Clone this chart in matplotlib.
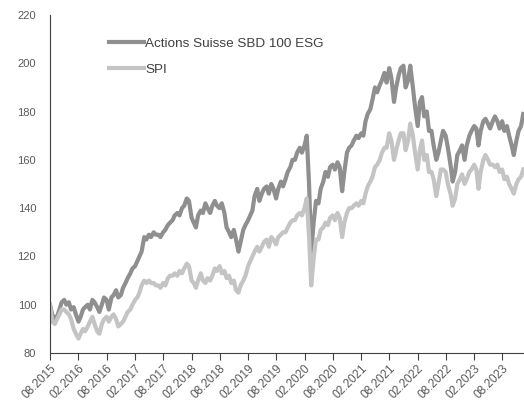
import matplotlib.pyplot as plt
import matplotlib.dates as mdates
import pandas as pd

plt.rcParams['font.family'] = ['Liberation Sans', 'DejaVu Sans']

# semi-monthly points (1st and 15th), Aug 2015 - Dec 2023
dates = pd.date_range("2015-08-01", "2023-12-15", freq="SMS")

esg = [
    100, 96, 94, 95, 98, 101, 102, 100, 101, 98, 99, 96,
    93, 95, 98, 99, 100, 98, 102, 101, 99, 97, 100, 103,
    102, 98, 103, 104, 106, 103, 104, 107, 109, 111, 113, 115,
    116, 118, 120, 122, 128, 127, 129, 128, 130, 129, 129, 128,
    130, 131, 133, 134, 135, 137, 138, 137, 140, 141, 144, 143,
    136, 134, 132, 137, 139, 138, 142, 140, 138, 141, 143, 141,
    140, 142, 138, 132, 130, 128, 131, 127, 122, 126, 131, 133,
    135, 137, 139, 145, 148, 143, 146, 148, 149, 146, 150, 148,
    144, 148, 151, 149, 152, 155, 157, 160, 160, 163, 165, 163,
    166, 170, 150, 122, 135, 143, 142, 148, 151, 155, 153, 157,
    158, 156, 159, 157, 147, 155, 163, 165, 166, 168, 170, 169,
    171, 170, 176, 179, 181, 185, 190, 188, 191, 193, 196, 192,
    198, 194, 184, 190, 195, 198, 199, 190, 193, 199, 190, 182,
    174, 184, 186, 178, 180, 172, 172, 166, 160, 163, 168, 172,
    170, 165, 158, 151, 155, 162, 164, 166, 160, 166, 170, 172,
    174, 173, 166, 172, 176, 177, 175, 173, 176, 178, 176, 173,
    176, 172, 174, 170, 166, 162, 168, 172, 174, 179,
]

spi = [
    100, 93, 92, 94, 96, 98, 98, 97, 96, 94, 90, 88,
    86, 88, 90, 89, 91, 93, 95, 92, 89, 88, 92, 94,
    95, 93, 95, 96, 94, 91, 92, 93, 95, 97, 98, 100,
    102, 103, 105, 108, 110, 109, 110, 109, 109, 108, 108, 107,
    109, 108, 111, 112, 112, 113, 112, 114, 113, 115, 117, 116,
    110, 109, 107, 110, 113, 110, 109, 111, 110, 112, 115, 114,
    116, 113, 114, 111, 112, 109, 110, 106, 105, 108, 110, 112,
    116, 118, 120, 122, 124, 122, 124, 126, 127, 124, 128, 127,
    125, 128, 129, 130, 130, 132, 134, 135, 135, 137, 138, 137,
    140, 144, 128, 108, 120, 127, 127, 131, 132, 134, 133, 136,
    137, 135, 138, 136, 128, 134, 138, 140, 140, 141, 142, 141,
    143, 142, 146, 149, 151, 153, 157, 158, 160, 163, 165, 165,
    171, 168, 160, 164, 168, 171, 171, 164, 168, 175, 170, 163,
    156, 164, 168, 160, 162, 155, 155, 152, 145, 150, 156, 156,
    155, 150, 146, 141, 144, 150, 152, 154, 150, 152, 155, 156,
    158, 156, 148, 155, 160, 162, 160, 158, 158, 157, 158, 155,
    156, 152, 153, 150, 148, 146, 150, 152, 153, 156,
]

fig = plt.figure(figsize=(5.24, 4.03), dpi=100)
ax = fig.add_axes([50 / 524, 50 / 403, 474 / 524, 338 / 403])

ax.plot(dates, esg, color="#8f8f8f", lw=3.0, label="Actions Suisse SBD 100 ESG")
ax.plot(dates, spi, color="#c4c4c4", lw=3.0, label="SPI")

ax.set_ylim(80, 220)
ax.set_yticks(range(80, 221, 20))
ax.set_xlim(pd.Timestamp("2015-08-01"), pd.Timestamp("2023-12-20"))
ax.xaxis.set_major_locator(mdates.MonthLocator(bymonth=[2, 8]))
ax.xaxis.set_major_formatter(mdates.DateFormatter("%m.%Y"))

for s in ["top", "right"]:
    ax.spines[s].set_visible(False)
ax.spines["left"].set_color("#404040")
ax.spines["bottom"].set_color("#404040")
ax.tick_params(axis="y", length=0, labelsize=8, labelcolor="#595959", pad=10)
ax.tick_params(axis="x", length=5, color="#404040", labelsize=8.5, labelcolor="#595959", pad=2)
plt.setp(ax.get_xticklabels(), rotation=45, ha="right", rotation_mode="anchor")

ax.legend(loc="upper left", bbox_to_anchor=(0.125, 0.933), frameon=False,
          fontsize=9.7, handlelength=2.6, handletextpad=0.05, labelspacing=1.0,
          borderpad=0, borderaxespad=0, labelcolor="#404040")

fig.savefig("out.png", dpi=100)
